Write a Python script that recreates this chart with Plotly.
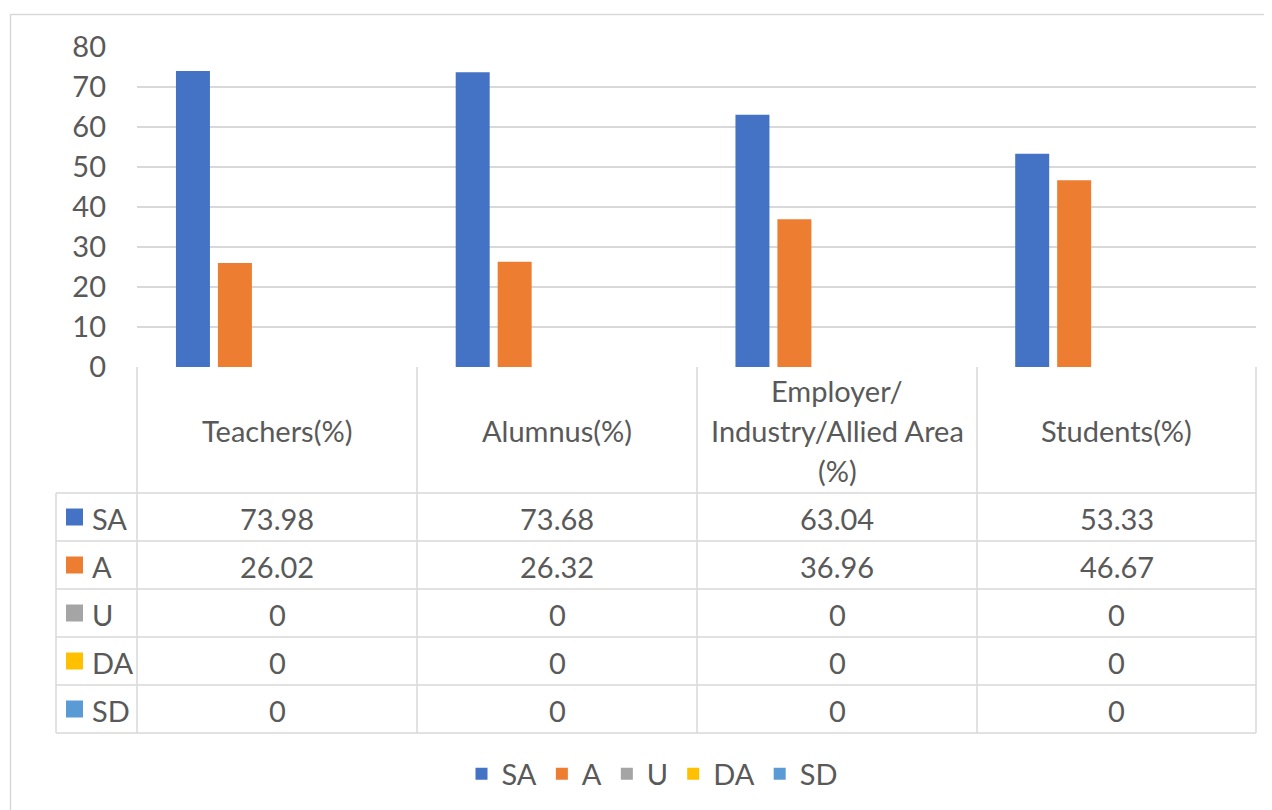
import plotly.graph_objects as go

categories = ["Teachers(%)", "Alumnus(%)", "Employer/ Industry/Allied Area (%)", "Students(%)"]
header_lines = [["Teachers(%)"], ["Alumnus(%)"], ["Employer/", "Industry/Allied Area", "(%)"], ["Students(%)"]]
series_names = ["SA", "A", "U", "DA", "SD"]
sa_values = [73.98, 73.68, 63.04, 53.33]
a_values = [26.02, 26.32, 36.96, 46.67]
u_values = [0, 0, 0, 0]
da_values = [0, 0, 0, 0]
sd_values = [0, 0, 0, 0]
series_values = [sa_values, a_values, u_values, da_values, sd_values]
colors = ["#4472C4", "#ED7D31", "#A5A5A5", "#FFC000", "#5B9BD5"]
y_ticks = [0, 10, 20, 30, 40, 50, 60, 70, 80]

OFF = 8  # page body margin
W, H = 1272 - OFF, 810 - OFF
FONT = "Lato"
FS = 29
TXT = "#595959"
GRID = "#D9D9D9"


def px(x):
    return (x - OFF) / W


def py(y):
    return 1 - (y - OFF) / H


fig = go.Figure()
for name, vals, col in zip(series_names, series_values, colors):
    fig.add_trace(go.Bar(name=name, x=list(range(len(categories))), y=vals,
                         marker=dict(color=col, line=dict(width=0))))

shapes = []
annotations = []

# outer chart border
shapes.append(dict(type="rect", xref="paper", yref="paper",
                   x0=px(10.5), x1=px(1271), y0=py(14.5), y1=py(830),
                   line=dict(color=GRID, width=1.5)))

# table geometry
col_edges = [137, 417, 697, 977, 1256]
row_edges = [493, 541, 589, 637, 685, 733]
top = 367
left_key = 56

for xe in col_edges:
    shapes.append(dict(type="line", xref="paper", yref="paper",
                       x0=px(xe), x1=px(xe), y0=py(top), y1=py(733),
                       line=dict(color=GRID, width=1.5)))
shapes.append(dict(type="line", xref="paper", yref="paper",
                   x0=px(left_key), x1=px(left_key), y0=py(493), y1=py(733),
                   line=dict(color=GRID, width=1.5)))
for ye in row_edges:
    shapes.append(dict(type="line", xref="paper", yref="paper",
                       x0=px(left_key), x1=px(1256), y0=py(ye), y1=py(ye),
                       line=dict(color=GRID, width=1.5)))

# header labels
col_centers = [(col_edges[i] + col_edges[i + 1]) / 2 for i in range(4)]
for cx, lines in zip(col_centers, header_lines):
    if len(lines) == 1:
        ys = [431]
    else:
        ys = [390, 431, 470]
    for ln, yy in zip(lines, ys):
        annotations.append(dict(xref="paper", yref="paper", x=px(cx), y=py(yy),
                                text=ln, showarrow=False, xanchor="center", yanchor="middle",
                                font=dict(family=FONT, size=FS, color=TXT)))

# value rows
for r, (name, vals, col) in enumerate(zip(series_names, series_values, colors)):
    yc = (row_edges[r] + row_edges[r + 1]) / 2
    shapes.append(dict(type="rect", xref="paper", yref="paper",
                       x0=px(66), x1=px(83), y0=py(yc - 8.5), y1=py(yc + 8.5),
                       fillcolor=col, line=dict(width=0)))
    annotations.append(dict(xref="paper", yref="paper", x=px(90), y=py(yc + 1),
                            text=name, showarrow=False, xanchor="left", yanchor="middle",
                            font=dict(family=FONT, size=FS, color=TXT)))
    for cx, v in zip(col_centers, vals):
        annotations.append(dict(xref="paper", yref="paper", x=px(cx), y=py(yc + 1),
                                text=f"{v:g}", showarrow=False, xanchor="center", yanchor="middle",
                                font=dict(family=FONT, size=FS, color=TXT)))

fig.update_layout(
    width=W, height=H,
    margin=dict(l=0, r=0, t=0, b=0, pad=0, autoexpand=False),
    paper_bgcolor="white", plot_bgcolor="white",
    barmode="group", bargap=0.25, bargroupgap=0.19,
    xaxis=dict(domain=[px(137), px(1256)], range=[-0.5, 3.5], showticklabels=False,
               showgrid=False, zeroline=False, showline=False, fixedrange=True),
    yaxis=dict(domain=[py(367), py(47)], range=[0, 80], tickvals=y_ticks,
               showgrid=True, gridcolor=GRID, gridwidth=1.5, zeroline=False, showline=False,
               ticks="", ticklabelstandoff=30,
               tickfont=dict(family=FONT, size=FS, color=TXT)),
    showlegend=True,
    legend=dict(orientation="h", x=px(652), xanchor="center", y=py(774), yanchor="middle",
                font=dict(family=FONT, size=FS, color=TXT), itemwidth=30,
                bgcolor="rgba(0,0,0,0)"),
    shapes=shapes,
    annotations=annotations,
    font=dict(family=FONT, color=TXT),
)

fig.write_html("out.html")
